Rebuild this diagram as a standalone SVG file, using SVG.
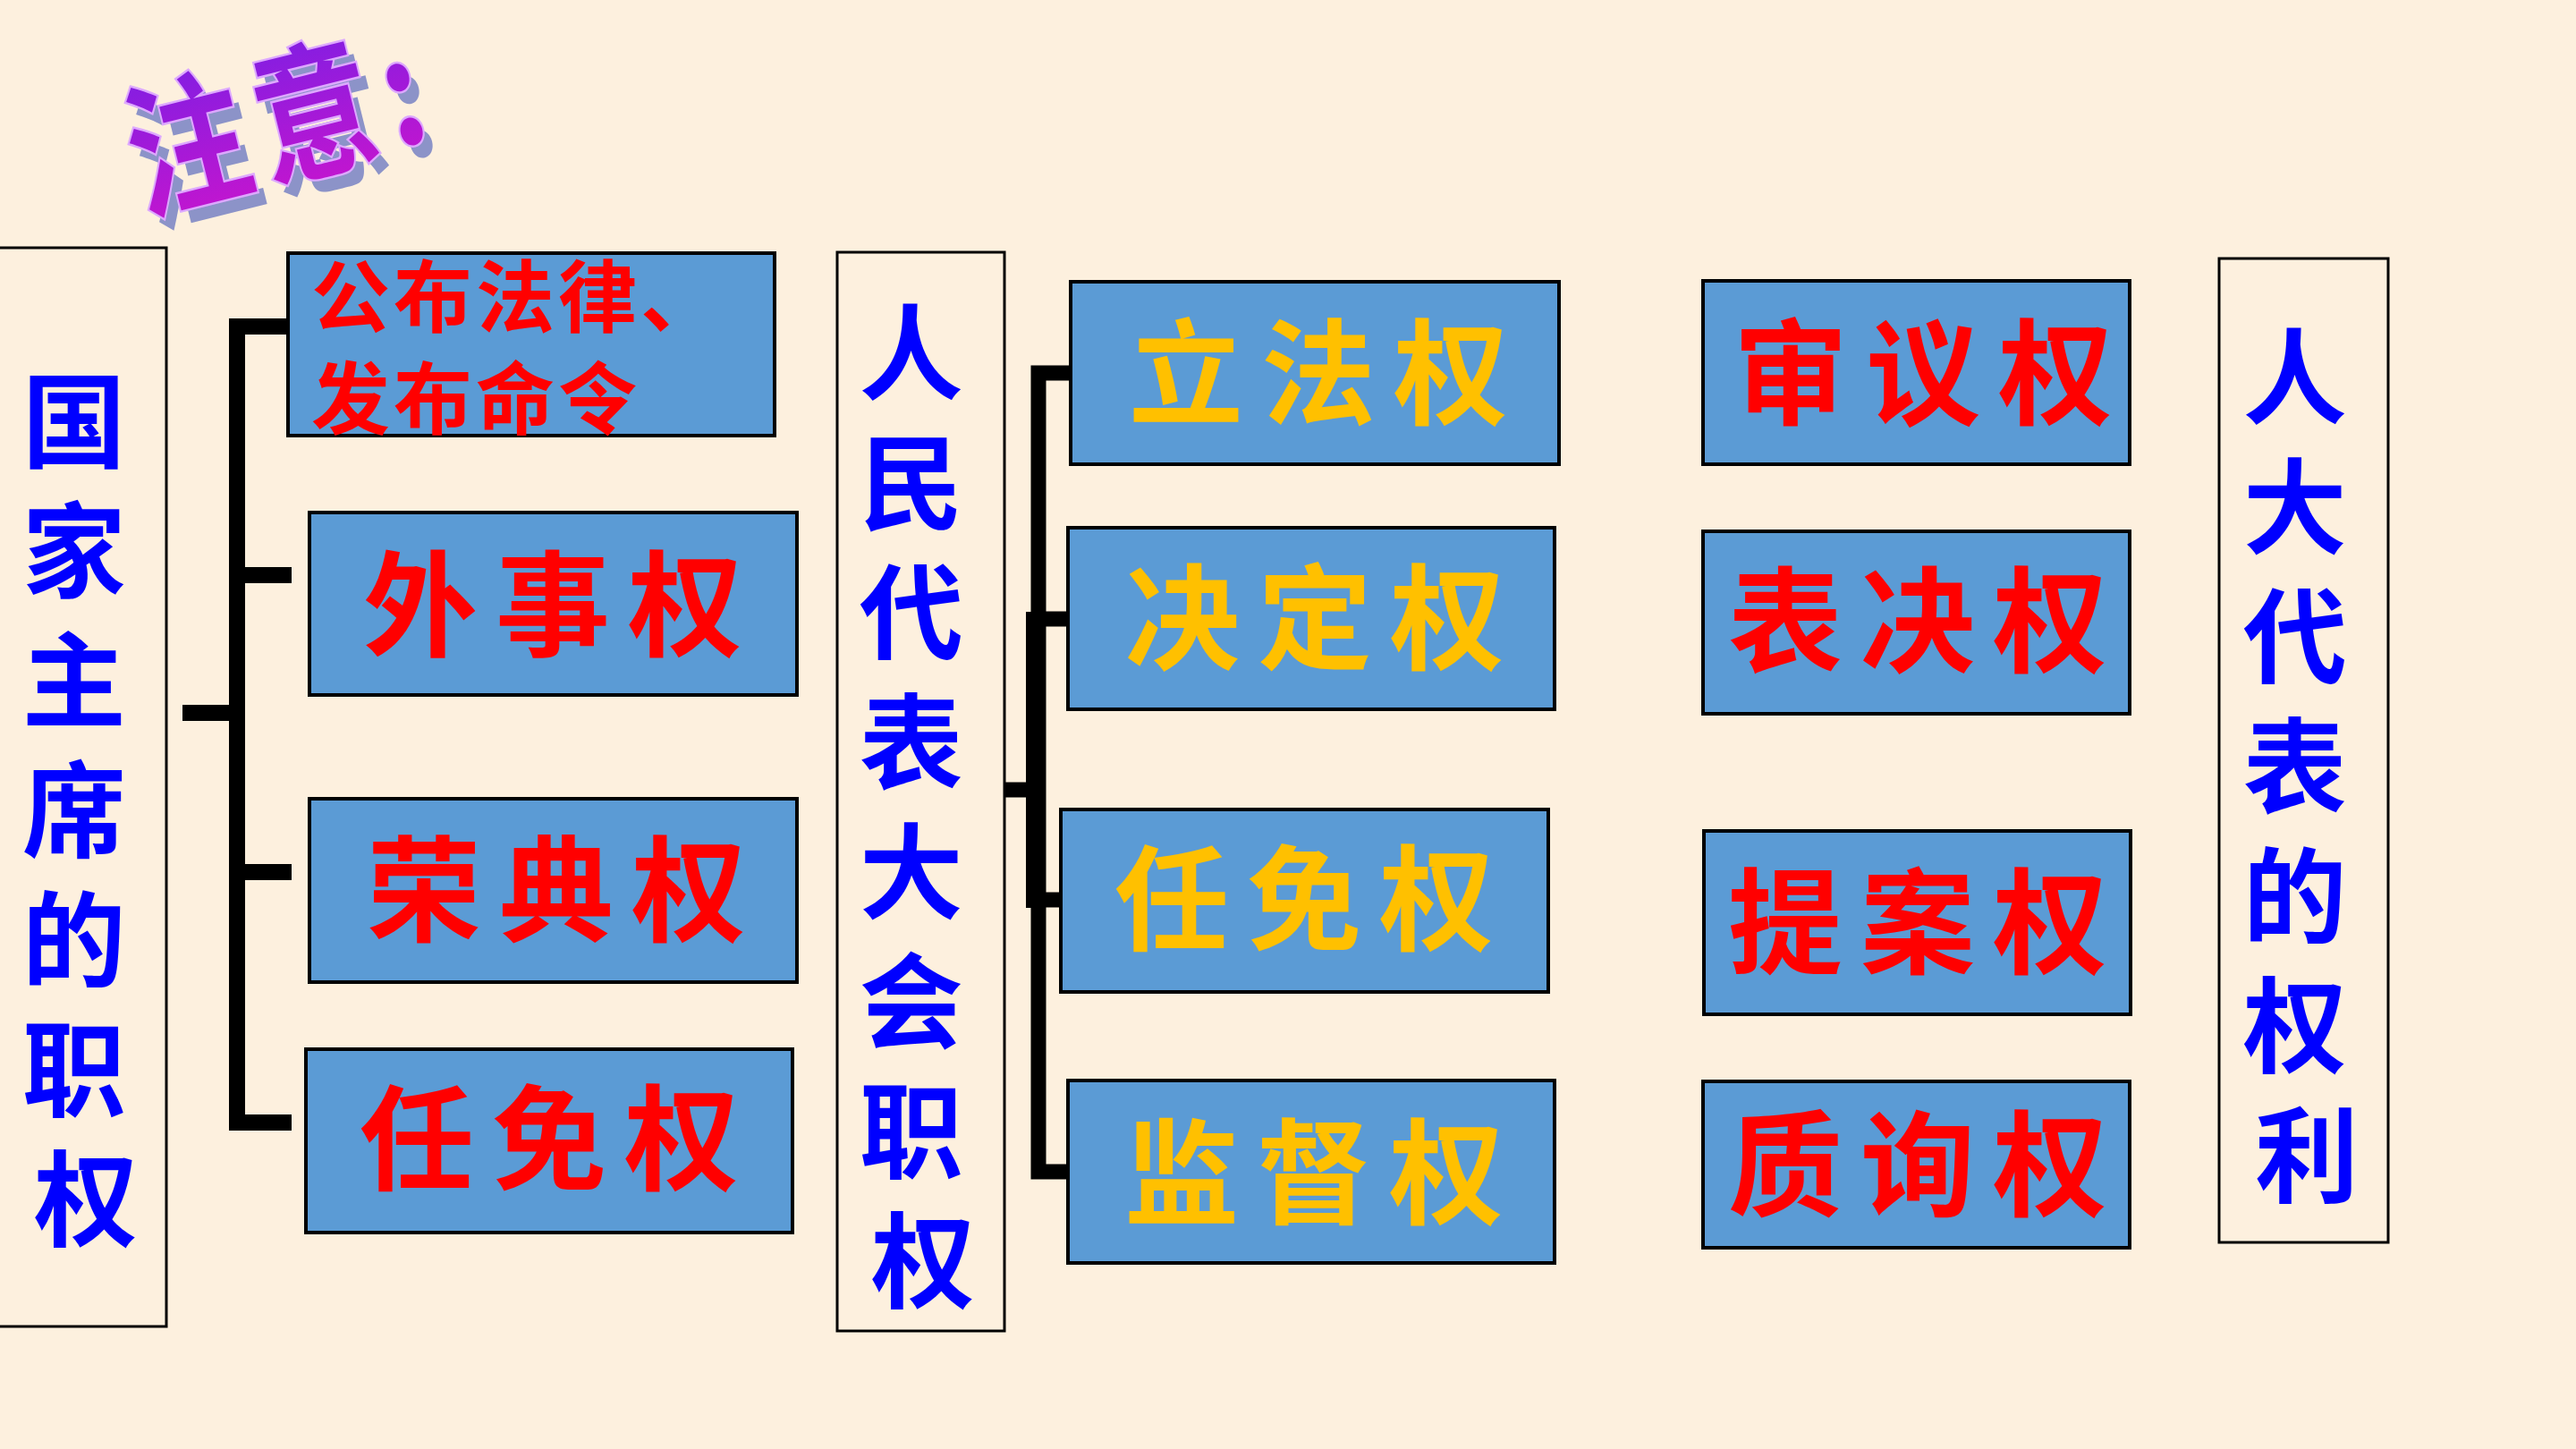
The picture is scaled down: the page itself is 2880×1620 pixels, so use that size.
<svg xmlns="http://www.w3.org/2000/svg" width="2880" height="1620" viewBox="0 0 2880 1620">
<defs>
<linearGradient id="tg" x1="0" y1="0" x2="0" y2="1">
<stop offset="0" stop-color="#7420E6"/>
<stop offset="1" stop-color="#CC14CC"/>
</linearGradient>
<style>
.bg{fill:#FDF0DE}
.box{fill:#5B9BD5;stroke:#000;stroke-width:4}
.col{fill:#FDF0DE;stroke:#000;stroke-width:3}
.t{font-family:"Noto Sans CJK SC","Noto Sans CJK TC",sans-serif;font-weight:700}
.red{fill:#FF0000}
.yel{fill:#FFC000}
.blue{fill:#0000FF}
.big{font-size:128px;letter-spacing:20px;text-anchor:middle}
.vert{font-size:116px;text-anchor:middle}
.con{fill:none;stroke:#000;stroke-width:18;stroke-linejoin:miter;stroke-linecap:butt}
</style>
</defs>
<rect class="bg" x="0" y="0" width="2880" height="1620"/>

<g id="title">
<g transform="translate(170,250) rotate(-14) scale(1,1.22)">
<text class="t" x="0" y="0" font-size="134" letter-spacing="12" fill="#8C93C8">注意:</text>
</g>
<g transform="translate(159,236) rotate(-14) scale(1,1.22)">
<text class="t" x="0" y="0" font-size="134" letter-spacing="12" fill="url(#tg)" stroke="#DDA8FF" stroke-width="4" paint-order="stroke">注意:</text>
</g>
</g>

<g id="connectors">
<path class="con" d="M 322 365 H 265 V 1255 H 326"/>
<path class="con" d="M 265 643 H 326"/>
<path class="con" d="M 265 975 H 326"/>
<path class="con" d="M 204 797 H 265"/>
<path class="con" style="stroke-width:17" d="M 1197 417 H 1161 V 1310 H 1194"/>
<path class="con" style="stroke-width:17" d="M 1161 692 H 1194"/>
<path class="con" style="stroke-width:17" d="M 1161 1006 H 1186"/>
<path class="con" style="stroke-width:17" d="M 1123 883 H 1161"/>
<rect x="1147" y="684" width="16" height="331" fill="#000"/>
</g>

<g id="head-left">
<rect class="col" x="-2" y="277" width="188" height="1206"/>
<text class="t blue vert">
<tspan x="96" y="514">国</tspan>
<tspan x="96" y="659">家</tspan>
<tspan x="96" y="804">主</tspan>
<tspan x="96" y="949">席</tspan>
<tspan x="96" y="1094">的</tspan>
<tspan x="96" y="1239">职</tspan>
<tspan x="96" y="1384">权</tspan>
</text>
</g>

<g id="n-gongbu">
<rect class="box" x="322" y="283" width="544" height="204"/>
<text class="t red" font-size="88" letter-spacing="4">
<tspan x="348" y="364">公布法律、</tspan>
<tspan x="348" y="478">发布命令</tspan>
</text>
</g>
<g id="n-waishi">
<rect class="box" x="346" y="573" width="545" height="204"/>
<text class="t red big" x="628" y="724">外事权</text>
</g>
<g id="n-rongdian">
<rect class="box" x="346" y="893" width="545" height="205"/>
<text class="t red big" x="632" y="1043">荣典权</text>
</g>
<g id="n-renmian1">
<rect class="box" x="342" y="1173" width="544" height="205"/>
<text class="t red big" x="624" y="1321">任免权</text>
</g>

<g id="head-mid">
<rect class="col" x="936" y="282" width="187" height="1206"/>
<text class="t blue vert">
<tspan x="1032" y="438">人</tspan>
<tspan x="1032" y="583">民</tspan>
<tspan x="1032" y="728">代</tspan>
<tspan x="1032" y="873">表</tspan>
<tspan x="1032" y="1018">大</tspan>
<tspan x="1032" y="1163">会</tspan>
<tspan x="1032" y="1308">职</tspan>
<tspan x="1032" y="1453">权</tspan>
</text>
</g>

<g id="n-lifa">
<rect class="box" x="1197" y="315" width="546" height="204"/>
<text class="t yel big" x="1484" y="465">立法权</text>
</g>
<g id="n-jueding">
<rect class="box" x="1194" y="590" width="544" height="203"/>
<text class="t yel big" x="1480" y="739">决定权</text>
</g>
<g id="n-renmian2">
<rect class="box" x="1186" y="905" width="545" height="204"/>
<text class="t yel big" x="1468" y="1053">任免权</text>
</g>
<g id="n-jiandu">
<rect class="box" x="1194" y="1208" width="544" height="204"/>
<text class="t yel big" x="1479" y="1359">监督权</text>
</g>

<g id="n-shenyi">
<rect class="box" x="1904" y="314" width="477" height="205"/>
<text class="t red big" x="2160" y="465">审议权</text>
</g>
<g id="n-biaojue">
<rect class="box" x="1904" y="594" width="477" height="204"/>
<text class="t red big" x="2154" y="742">表决权</text>
</g>
<g id="n-tian">
<rect class="box" x="1905" y="929" width="477" height="205"/>
<text class="t red big" x="2154" y="1079">提案权</text>
</g>
<g id="n-zhixun">
<rect class="box" x="1904" y="1209" width="477" height="186"/>
<text class="t red big" x="2154" y="1350">质询权</text>
</g>

<g id="head-right">
<rect class="col" x="2481" y="289" width="189" height="1100"/>
<text class="t blue vert">
<tspan x="2579" y="465">人</tspan>
<tspan x="2579" y="610">大</tspan>
<tspan x="2579" y="755">代</tspan>
<tspan x="2579" y="900">表</tspan>
<tspan x="2579" y="1045">的</tspan>
<tspan x="2579" y="1190">权</tspan>
<tspan x="2579" y="1335">利</tspan>
</text>
</g>
</svg>
